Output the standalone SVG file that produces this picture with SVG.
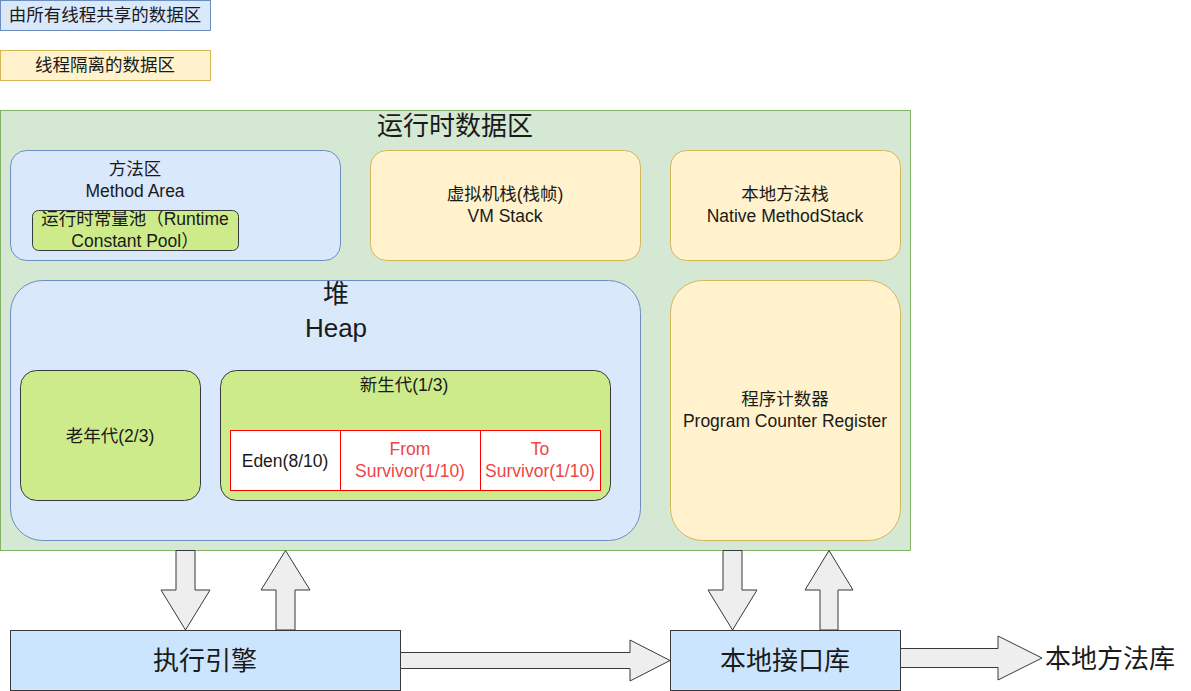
<svg xmlns="http://www.w3.org/2000/svg" width="1191" height="691" viewBox="0 0 1191 691">
<style>
text{font-family:"Liberation Sans","Noto Sans CJK SC",sans-serif;font-size:17.5px;fill:#1a1a1a;text-anchor:middle;dominant-baseline:central}
.big{font-size:26px}
.blue{fill:#dae8fc;stroke:#6c8ebf}
.yel{fill:#fff2cc;stroke:#d6b656}
.grn{fill:#cdeb8b;stroke:#36393d}
.cell{fill:#ffffff;stroke:#ff0000}
.red{fill:#ee4545}
.eng{fill:#cce5ff;stroke:#36393d}
.arr{fill:#eeeeee;stroke:#36393d;stroke-width:1}
</style>
<rect width="1191" height="691" fill="#ffffff"/>
<g id="legend-shared"><rect class="blue" x="0.5" y="0.5" width="210" height="30"/><text x="105" y="15">由所有线程共享的数据区</text></g>
<g id="legend-isolated"><rect class="yel" x="0.5" y="50.5" width="210" height="30"/><text x="105" y="65">线程隔离的数据区</text></g>
<g id="runtime"><rect x="0.5" y="110.5" width="910" height="440" fill="#d5e8d4" stroke="#82b366"/><text class="big" x="455" y="126">运行时数据区</text></g>
<g id="method-area"><rect class="blue" x="10.5" y="150.5" width="330" height="110" rx="16"/><text x="135" y="169">方法区</text><text x="135" y="191">Method Area</text></g>
<g id="constant-pool"><rect class="grn" x="32.5" y="210.5" width="206" height="40" rx="6"/><text x="135" y="219">运行时常量池（Runtime</text><text x="135" y="241">Constant Pool）</text></g>
<g id="vm-stack"><rect class="yel" x="370.5" y="150.5" width="270" height="110" rx="16"/><text x="505" y="194">虚拟机栈(栈帧)</text><text x="505" y="216">VM Stack</text></g>
<g id="native-stack"><rect class="yel" x="670.5" y="150.5" width="230" height="110" rx="16"/><text x="785" y="194">本地方法栈</text><text x="785" y="216">Native MethodStack</text></g>
<g id="heap"><rect class="blue" x="10.5" y="280.5" width="630" height="260" rx="32"/><text class="big" x="336" y="294">堆</text><text class="big" x="336" y="328">Heap</text></g>
<g id="old-gen"><rect class="grn" x="20.5" y="370.5" width="180" height="130" rx="16"/><text x="110" y="436">老年代(2/3)</text></g>
<g id="young-gen"><rect class="grn" x="220.5" y="370.5" width="390" height="130" rx="16"/><text x="404" y="385">新生代(1/3)</text></g>
<g id="eden"><rect class="cell" x="230.5" y="430.5" width="110" height="60"/><text x="285" y="461">Eden(8/10)</text></g>
<g id="from"><rect class="cell" x="340.5" y="430.5" width="140" height="60"/><text class="red" x="410" y="449">From</text><text class="red" x="410" y="471">Survivor(1/10)</text></g>
<g id="to"><rect class="cell" x="480.5" y="430.5" width="120" height="60"/><text class="red" x="540" y="449">To</text><text class="red" x="540" y="471">Survivor(1/10)</text></g>
<g id="pc"><rect class="yel" x="670.5" y="280.5" width="230" height="260" rx="32"/><text x="785" y="399">程序计数器</text><text x="785" y="421">Program Counter Register</text></g>
<g id="engine"><rect class="eng" x="10.5" y="630.5" width="390" height="60"/><text class="big" x="205" y="661">执行引擎</text></g>
<g id="native-iface"><rect class="eng" x="670.5" y="630.5" width="230" height="60"/><text class="big" x="785" y="661">本地接口库</text></g>
<g id="native-lib"><text class="big" x="1110" y="659">本地方法库</text></g>
<g id="connectors">
<polygon class="arr" points="176,550.5 195,550.5 195,590 210,590 185.5,630 161,590 176,590"/>
<polygon class="arr" points="276,630 295,630 295,590 310,590 285.5,550.5 261,590 276,590"/>
<polygon class="arr" points="400.5,652.5 630,652.5 630,640 670,660.5 630,681 630,668.5 400.5,668.5"/>
<polygon class="arr" points="723,550.5 742,550.5 742,590 757,590 732.5,630 708,590 723,590"/>
<polygon class="arr" points="820,630 838,630 838,590 853,590 829,550.5 805,590 820,590"/>
<polygon class="arr" points="900.5,648.5 998,648.5 998,636 1042,658 998,680 998,667.5 900.5,667.5"/>
</g>
</svg>
